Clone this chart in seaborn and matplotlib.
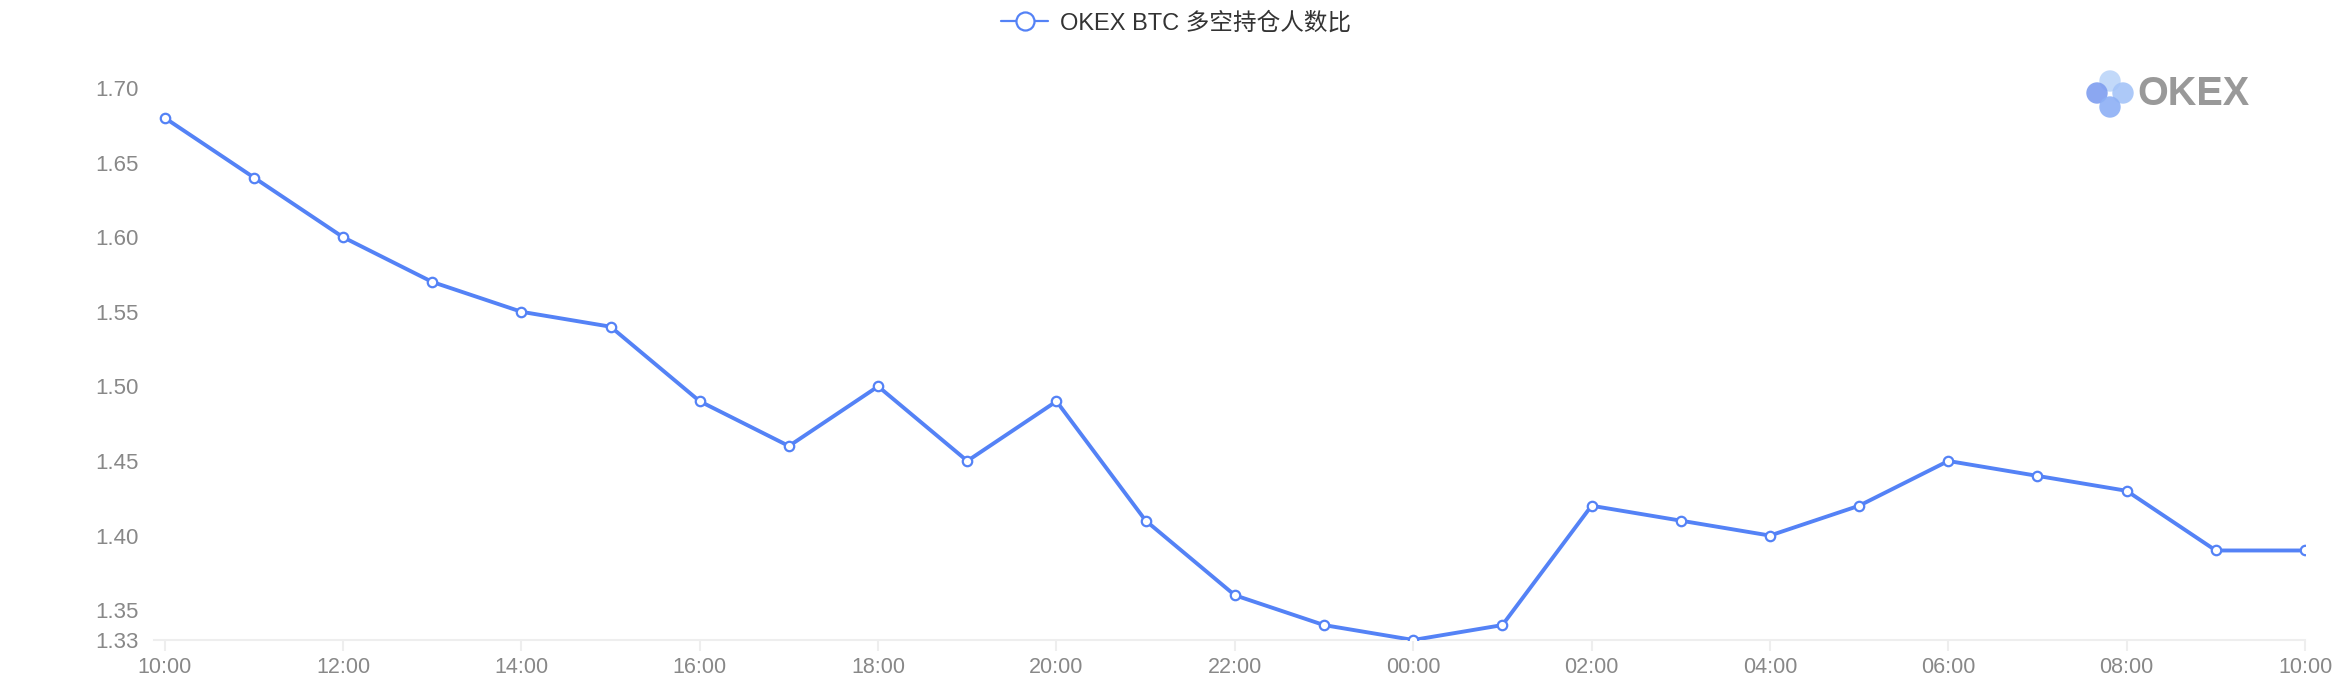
import pandas as pd
import matplotlib.pyplot as plt
import seaborn as sns
from matplotlib.lines import Line2D
from matplotlib.patches import Circle

sns.set_theme(style="white")
plt.rcParams['font.family'] = ['Liberation Sans', 'Noto Sans CJK SC', 'DejaVu Sans']

hours = ['10:00', '11:00', '12:00', '13:00', '14:00', '15:00', '16:00', '17:00',
         '18:00', '19:00', '20:00', '21:00', '22:00', '23:00', '00:00', '01:00',
         '02:00', '03:00', '04:00', '05:00', '06:00', '07:00', '08:00', '09:00', '10:00']
ratio = [1.68, 1.64, 1.60, 1.57, 1.55, 1.54, 1.49, 1.46, 1.50, 1.45, 1.49, 1.41,
         1.36, 1.34, 1.33, 1.34, 1.42, 1.41, 1.40, 1.42, 1.45, 1.44, 1.43, 1.39, 1.39]
y_ticks = [1.33, 1.35, 1.40, 1.45, 1.50, 1.55, 1.60, 1.65, 1.70]
series_name = 'OKEX BTC 多空持仓人数比'

BLUE = '#5482F6'
W, H = 2352, 680

df = pd.DataFrame({'pos': range(len(hours)), 'ratio': ratio})

fig = plt.figure(figsize=(W / 100, H / 100), dpi=100)
ax = fig.add_axes([154 / W, 40 / H, (2305 - 154) / W, (640 - 88) / H])

sns.lineplot(data=df, x='pos', y='ratio', ax=ax, color=BLUE, linewidth=2.8,
             marker='o', markersize=6.8, markerfacecolor='white',
             markeredgecolor=BLUE, markeredgewidth=1.6, zorder=3)

ax.set_xlim(-0.12, len(hours) - 1)
ax.set_ylim(1.33, 1.70)
ax.set_xticks(range(0, len(hours), 2))
ax.set_xticklabels(hours[::2])
ax.set_yticks(y_ticks)
ax.set_yticklabels([f'{v:.2f}' for v in y_ticks])
ax.set_xlabel('')
ax.set_ylabel('')

for s in ['top', 'right', 'left']:
    ax.spines[s].set_visible(False)
ax.spines['bottom'].set_color('#eeeeee')
ax.spines['bottom'].set_linewidth(1.5)
ax.tick_params(axis='x', direction='out', length=8, width=1.5, color='#eeeeee',
               labelsize=15.5, labelcolor='#888888', pad=4, bottom=True)
ax.tick_params(axis='y', length=0, labelsize=16, labelcolor='#888888', pad=11)
ax.grid(False)

handle = Line2D([], [], color=BLUE, linewidth=1.6, marker='o', markersize=13,
                markerfacecolor='white', markeredgecolor=BLUE, markeredgewidth=1.6)
fig.legend([handle], [series_name], loc='center', bbox_to_anchor=(0.5, 1 - 23 / H),
           frameon=False, handlelength=2.0, handletextpad=0.5,
           labelcolor='#333333', prop={'family': ['Liberation Sans', 'Noto Sans CJK SC'], 'size': 17})

# logo
lax = fig.add_axes([2070 / W, (H - 125) / H, 200 / W, 64 / H])
lax.set_xlim(2070, 2270)
lax.set_ylim(125, 61)
lax.axis('off')
for (cx, cy), col in [((2110, 81), '#bcd5f9'), ((2123, 93), '#a4c4f8'),
                      ((2097, 93), '#7f9ef0'), ((2110, 107), '#8db0f5')]:
    lax.add_patch(Circle((cx, cy), 10.7, color=col, alpha=0.9, lw=0))
lax.text(2137, 94, 'OKEX', fontsize=28.5, fontweight='bold', color='#999999',
         va='center', ha='left', family='Liberation Sans')

fig.savefig('out.png', dpi=100)
